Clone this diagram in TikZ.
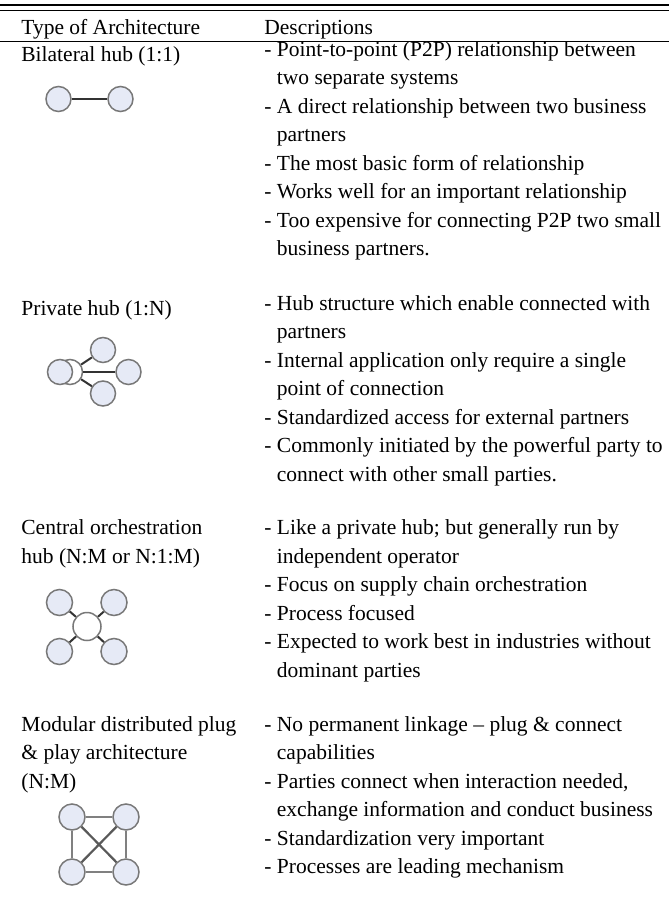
\documentclass[tikz,border=0pt]{standalone}
\usepackage{fontspec}
\setmainfont{Liberation Serif}
\usepackage{tikz}
\usetikzlibrary{positioning}
\definecolor{hubfill}{RGB}{230,234,246}
\definecolor{hubline}{RGB}{120,120,120}

\begin{document}
\begin{tikzpicture}[x=0.5pt, y=-0.5pt,
    every node/.style={inner sep=0pt, font=\fontsize{10.75}{14.25}\selectfont},
    txt/.style={anchor=north west, align=left, execute at begin node=\strut},
    party/.style={circle, draw=hubline, fill=hubfill, line width=0.75pt, minimum size=12.5pt},
    bigparty/.style={party, minimum size=13pt},
    centre/.style={party, fill=white},
    link/.style={black!80, line width=1pt},
    plink/.style={black!50, line width=1.3pt},
    xlink/.style={black!65, line width=1.1pt}
  ]
  \useasboundingbox (0,0) rectangle (669,906);
  % rules
  \draw[line width=1.4pt] (0,5) -- (669,5);
  \draw[line width=0.5pt] (0,10.5) -- (669,10.5);
  \draw[line width=0.6pt] (0,41.5) -- (669,41.5);
  \node[txt] (typehead) at (21,14.55)  {Type of Architecture};
  \node[txt] (deschead) at (264,14.55) {Descriptions};

  % column 1
  \node[txt] (bilat)   at (21,41.05)  {Bilateral hub (1:1)};
  \node[txt] (priv)    at (21,295.05) {Private hub (1:N)};
  \node[txt] (central) at (21,519.55) {Central orchestration\\hub (N:M or N:1:M)};
  \node[txt] (modular) at (21,716.05) {Modular distributed plug\\\& play architecture\\(N:M)};

  % column 2
  \node[txt] (bilatdesc) at (264,41.05) {- Point-to-point (P2P) relationship between\\
    \phantom{- }two separate systems\\
    - A direct relationship between two business\\
    \phantom{- }partners\\
    - The most basic form of relationship\\
    - Works well for an important relationship\\
    - Too expensive for connecting P2P two small\\
    \phantom{- }business partners.};
  \node[txt] (privdesc) at (264,295.05) {- Hub structure which enable connected with\\
    \phantom{- }partners\\
    - Internal application only require a single\\
    \phantom{- }point of connection\\
    - Standardized access for external partners\\
    - Commonly initiated by the powerful party to\\
    \phantom{- }connect with other small parties.};
  \node[txt] (centdesc) at (264,519.55) {- Like a private hub; but generally run by\\
    \phantom{- }independent operator\\
    - Focus on supply chain orchestration\\
    - Process focused\\
    - Expected to work best in industries without\\
    \phantom{- }dominant parties};
  \node[txt] (moddesc) at (264,716.05) {- No permanent linkage – plug \& connect\\
    \phantom{- }capabilities\\
    - Parties connect when interaction needed,\\
    \phantom{- }exchange information and conduct business\\
    - Standardization very important\\
    - Processes are leading mechanism};

  % bilateral
  \node[party] (bl) at (58.5,99) {};
  \node[party] (br) at (120.5,99) {};
  \draw[link] (bl) -- (br);

  % private hub
  \node[centre] (ph) at (70,372) {};
  \node[party]  (pl) at (60,372) {};
  \node[party]  (pt) at (103,350) {};
  \node[party]  (pr) at (128.5,372) {};
  \node[party]  (pb) at (103,393.5) {};
  \draw[link] (ph) -- (pt);
  \draw[link] (ph) -- (pr);
  \draw[link] (ph) -- (pb);

  % central orchestration
  \node[centre, minimum size=14pt] (cc) at (87,626.5) {};
  \node[bigparty] (ctl) at (59.5,602.5) {};
  \node[bigparty] (ctr) at (114,602.5) {};
  \node[bigparty] (cbl) at (59.5,651.5) {};
  \node[bigparty] (cbr) at (114,651.5) {};
  \foreach \n in {ctl,ctr,cbl,cbr}
    \draw[link] (cc) -- (\n);

  % modular plug & play
  \node[bigparty] (mtl) at (72,817) {};
  \node[bigparty] (mtr) at (126,817) {};
  \node[bigparty] (mbl) at (72,872) {};
  \node[bigparty] (mbr) at (126,872) {};
  \draw[plink] (mtl) -- (mtr);
  \draw[plink] (mtr) -- (mbr);
  \draw[plink] (mbr) -- (mbl);
  \draw[plink] (mbl) -- (mtl);
  \draw[xlink] (mtl) -- (mbr);
  \draw[xlink] (mtr) -- (mbl);
\end{tikzpicture}
\end{document}
